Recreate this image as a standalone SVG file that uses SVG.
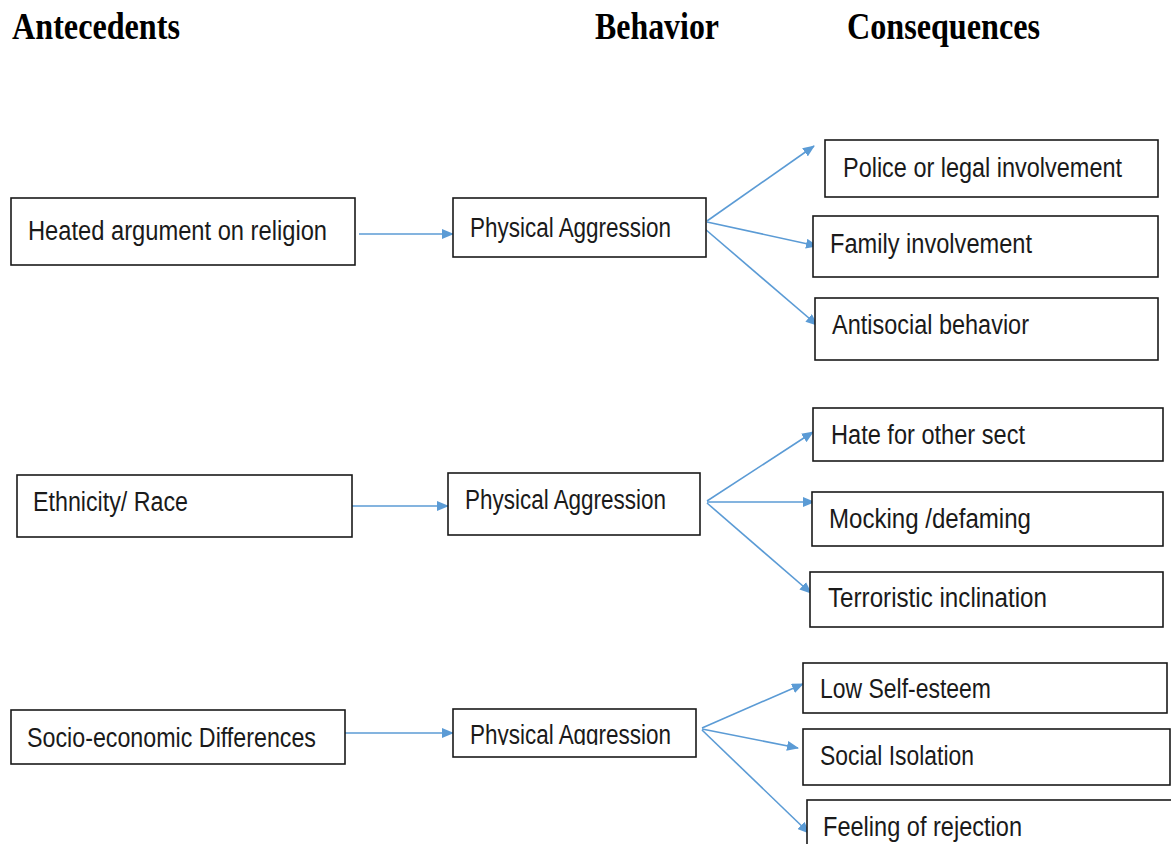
<svg xmlns="http://www.w3.org/2000/svg" width="1171" height="844" viewBox="0 0 1171 844">
<style>
.title{font-family:"Liberation Serif","Times New Roman",serif;font-weight:bold;font-size:38px;fill:#000}
.box{fill:#fff;stroke:#1a1a1a;stroke-width:1.6}
.lbl{font-family:"Liberation Sans",Arial,sans-serif;font-size:27px;fill:#1a1a1a}
.con{stroke:#5B9BD5;stroke-width:1.6;fill:none}
</style>
<defs>
<marker id="ah" viewBox="0 0 12 10" refX="11" refY="5" markerWidth="12" markerHeight="10" markerUnits="userSpaceOnUse" orient="auto">
<path d="M0,0 L12,5 L0,10 z" fill="#5B9BD5"/>
</marker>
<clipPath id="clipP3"><rect x="440" y="700" width="270" height="45"/></clipPath>
</defs>
<rect width="1171" height="844" fill="#fff"/>
<g id="titles">
<text class="title" x="12" y="39" textLength="168" lengthAdjust="spacingAndGlyphs">Antecedents</text>
<text class="title" x="595" y="39" textLength="124" lengthAdjust="spacingAndGlyphs">Behavior</text>
<text class="title" x="847" y="39" textLength="193" lengthAdjust="spacingAndGlyphs">Consequences</text>
</g>
<g id="connectors">
<line class="con" x1="359" y1="234" x2="453" y2="234" marker-end="url(#ah)"/>
<line class="con" x1="707" y1="221" x2="814" y2="146" marker-end="url(#ah)"/>
<line class="con" x1="707" y1="222" x2="817" y2="246" marker-end="url(#ah)"/>
<line class="con" x1="705" y1="229" x2="817" y2="325" marker-end="url(#ah)"/>
<line class="con" x1="352" y1="506" x2="448" y2="506" marker-end="url(#ah)"/>
<line class="con" x1="707" y1="501" x2="813" y2="432" marker-end="url(#ah)"/>
<line class="con" x1="707" y1="502" x2="814" y2="502" marker-end="url(#ah)"/>
<line class="con" x1="707" y1="503" x2="811" y2="593" marker-end="url(#ah)"/>
<line class="con" x1="345" y1="733" x2="453" y2="733" marker-end="url(#ah)"/>
<line class="con" x1="702" y1="728" x2="803" y2="684" marker-end="url(#ah)"/>
<line class="con" x1="702" y1="729" x2="798" y2="748" marker-end="url(#ah)"/>
<line class="con" x1="702" y1="730" x2="809" y2="833" marker-end="url(#ah)"/>
</g>
<g id="ante1"><rect class="box" x="11" y="198" width="344" height="67"/><text class="lbl" x="28" y="240" textLength="299" lengthAdjust="spacingAndGlyphs">Heated argument on religion</text></g>
<g id="beh1"><rect class="box" x="453" y="198" width="253" height="59"/><text class="lbl" x="470" y="237" textLength="201" lengthAdjust="spacingAndGlyphs">Physical Aggression</text></g>
<g id="con1a"><rect class="box" x="825" y="140" width="333" height="57"/><text class="lbl" x="843" y="177" textLength="279" lengthAdjust="spacingAndGlyphs">Police or legal involvement</text></g>
<g id="con1b"><rect class="box" x="813" y="216" width="345" height="61"/><text class="lbl" x="830" y="253" textLength="202" lengthAdjust="spacingAndGlyphs">Family involvement</text></g>
<g id="con1c"><rect class="box" x="815" y="298" width="343" height="62"/><text class="lbl" x="832" y="334" textLength="197" lengthAdjust="spacingAndGlyphs">Antisocial behavior</text></g>

<g id="ante2"><rect class="box" x="17" y="475" width="335" height="62"/><text class="lbl" x="33" y="511" textLength="155" lengthAdjust="spacingAndGlyphs">Ethnicity/ Race</text></g>
<g id="beh2"><rect class="box" x="448" y="473" width="252" height="62"/><text class="lbl" x="465" y="509" textLength="201" lengthAdjust="spacingAndGlyphs">Physical Aggression</text></g>
<g id="con2a"><rect class="box" x="813" y="408" width="350" height="53"/><text class="lbl" x="831" y="444" textLength="194" lengthAdjust="spacingAndGlyphs">Hate for other sect</text></g>
<g id="con2b"><rect class="box" x="812" y="492" width="351" height="54"/><text class="lbl" x="829" y="528" textLength="202" lengthAdjust="spacingAndGlyphs">Mocking /defaming</text></g>
<g id="con2c"><rect class="box" x="810" y="572" width="353" height="55"/><text class="lbl" x="828" y="607" textLength="219" lengthAdjust="spacingAndGlyphs">Terroristic inclination</text></g>

<g id="ante3"><rect class="box" x="11" y="710" width="334" height="54"/><text class="lbl" x="27" y="747" textLength="289" lengthAdjust="spacingAndGlyphs">Socio-economic Differences</text></g>
<g id="beh3"><rect class="box" x="453" y="709" width="243" height="48"/><text class="lbl" x="470" y="744" textLength="201" lengthAdjust="spacingAndGlyphs" clip-path="url(#clipP3)">Physical Aggression</text></g>
<g id="con3a"><rect class="box" x="803" y="663" width="364" height="50"/><text class="lbl" x="820" y="698" textLength="171" lengthAdjust="spacingAndGlyphs">Low Self-esteem</text></g>
<g id="con3b"><rect class="box" x="803" y="729" width="367" height="56"/><text class="lbl" x="820" y="765" textLength="154" lengthAdjust="spacingAndGlyphs">Social Isolation</text></g>
<g id="con3c"><rect class="box" x="807" y="800" width="380" height="60"/><text class="lbl" x="823" y="836" textLength="199" lengthAdjust="spacingAndGlyphs">Feeling of rejection</text></g>
</svg>
